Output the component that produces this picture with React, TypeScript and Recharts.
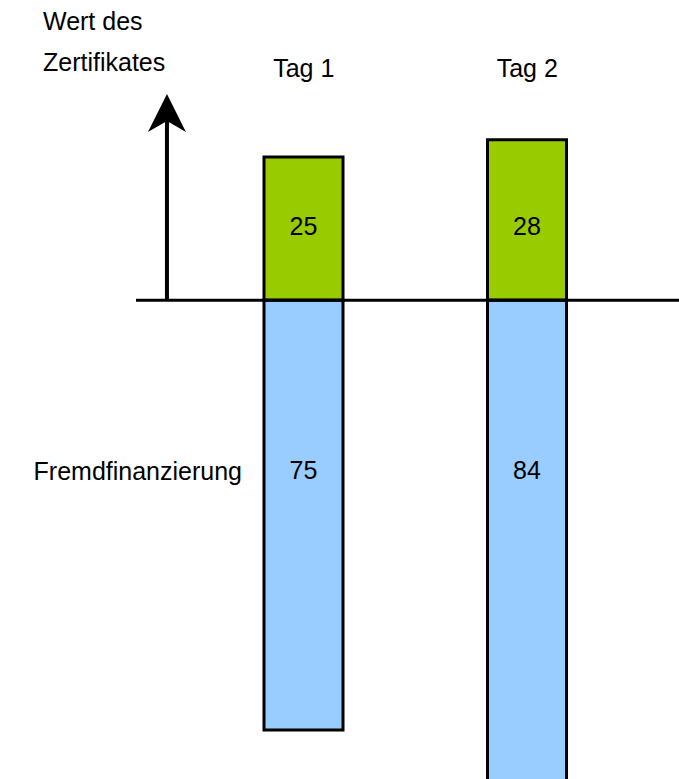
import React from "react";
import { BarChart, Bar, XAxis, YAxis, ReferenceLine, LabelList } from "recharts";

const days = ["Tag 1", "Tag 2"];
const wertDesZertifikates = [25, 28];
const fremdfinanzierung = [75, 84];

const rows = days.map((day, i) => ({
  day,
  wert: wertDesZertifikates[i],
  fremd: -fremdfinanzierung[i],
}));

const font = "'Liberation Sans', Arial, sans-serif";
const fs = 25;

// vertical axis arrow drawn from the reference line's end points
const Arrow = (props: any) => {
  const { x1, y1, y2 } = props;
  const bottom = Math.max(y1, y2);
  const tip = Math.min(y1, y2);
  return (
    <g>
      <line x1={x1} y1={bottom} x2={x1} y2={tip + 26} stroke="#000" strokeWidth={4} />
      <polygon
        points={`${x1},${tip} ${x1 + 19},${tip + 38} ${x1},${tip + 27} ${x1 - 19},${tip + 38}`}
        fill="#000"
      />
    </g>
  );
};

const App = () => {
  return (
    <div
      style={{
        position: "absolute",
        left: 0,
        top: 0,
        width: 679,
        height: 779,
        overflow: "hidden",
        background: "#fff",
      }}
    >
      <BarChart
        width={679}
        height={816}
        data={rows}
        stackOffset="sign"
        margin={{ top: 64, right: 0, bottom: 0, left: 136 }}
      >
        <XAxis
          dataKey="day"
          orientation="top"
          height={30}
          axisLine={false}
          tickLine={false}
          tickSize={0}
          tickMargin={17}
          interval={0}
          padding={{ left: 56, right: 40 }}
          tick={{ fill: "#000", fontSize: fs, fontFamily: font }}
        />
        <XAxis
          xAxisId="pos"
          dataKey="wert"
          type="number"
          domain={[0, 100]}
          allowDataOverflow
          hide
        />
        <YAxis domain={[-90, 36]} hide />
        <Bar
          dataKey="wert"
          stackId="a"
          fill="#99cc00"
          stroke="#000"
          strokeWidth={3}
          barSize={79}
          isAnimationActive={false}
        >
          <LabelList
            dataKey="wert"
            position="insideBottom"
            offset={65}
            fill="#000"
            fontSize={fs}
            fontFamily={font}
          />
        </Bar>
        <Bar
          dataKey="fremd"
          stackId="a"
          fill="#99ccff"
          stroke="#000"
          strokeWidth={3}
          barSize={79}
          isAnimationActive={false}
        >
          <LabelList
            dataKey="fremd"
            position="insideBottom"
            offset={161}
            formatter={(v: any) => Math.abs(v)}
            fill="#000"
            fontSize={fs}
            fontFamily={font}
          />
        </Bar>
        <ReferenceLine y={0} stroke="#000" strokeWidth={3} />
        <ReferenceLine
          xAxisId="pos"
          yAxisId={0}
          segment={[
            { x: 5.7, y: 0 },
            { x: 5.7, y: 36 },
          ]}
          ifOverflow="visible"
          stroke="#000"
          shape={<Arrow />}
        />
        <text x={43} y={30} fontSize={fs} fontFamily={font} fill="#000">
          Wert des
        </text>
        <text x={43} y={71} fontSize={fs} fontFamily={font} fill="#000">
          Zertifikates
        </text>
        <text x={242} y={480} fontSize={fs} fontFamily={font} fill="#000" textAnchor="end">
          Fremdfinanzierung
        </text>
      </BarChart>
    </div>
  );
};

export default App;
